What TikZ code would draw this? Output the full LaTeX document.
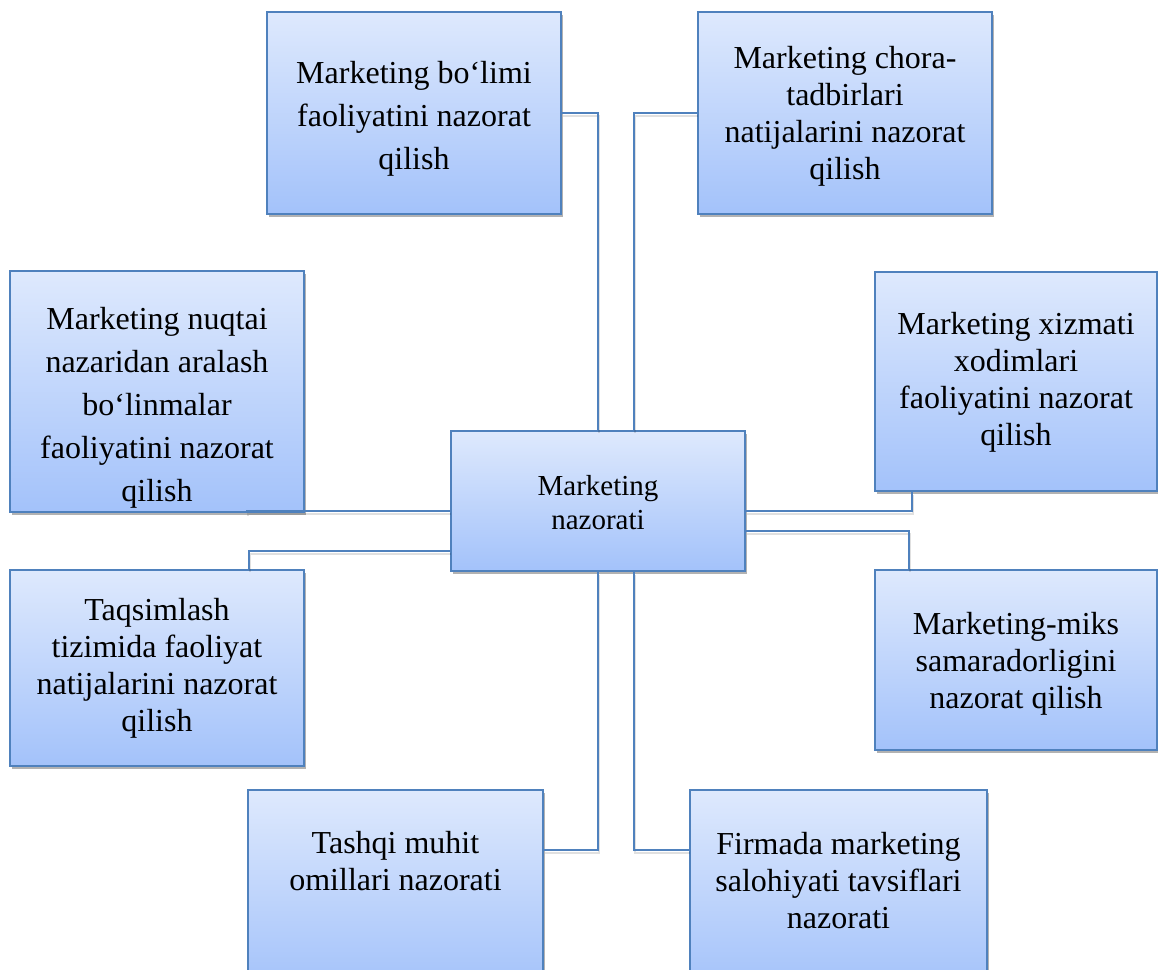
\documentclass[tikz,border=0pt]{standalone}
\usepackage{fontspec}
\setmainfont{Liberation Serif}
\usetikzlibrary{shadows}

\definecolor{boxtop}{RGB}{222,233,253}
\definecolor{boxbot}{RGB}{163,194,250}
\definecolor{boxline}{RGB}{79,129,189}

\tikzset{
  box/.style={draw=boxline, line width=2pt, top color=boxtop, bottom color=boxbot,
    minimum width=294pt, inner sep=0pt,
    drop shadow={shadow xshift=2pt, shadow yshift=-3pt, opacity=0.3, fill=black}},
  txt/.style={align=center, inner sep=0pt, font=\fontsize{32}{37}\selectfont},
  loose/.style={font=\fontsize{32}{43}\selectfont},
  link/.style={draw=boxline, line width=2pt,
    preaction={draw=black, opacity=0.12, line width=2pt, transform canvas={xshift=1pt, yshift=-3pt}}}
}

\begin{document}
\begin{tikzpicture}[x=1pt, y=-1pt]
    \fill[white] (0,0) rectangle (1158,969);
    \useasboundingbox (0,0) rectangle (1158,969);

    % outer boxes, pixel positions from top left
    \node[box, minimum height=202pt] (bolim) at (414,113) {};
    \node[box, minimum height=202pt] (chora) at (845,113) {};
    \node[box, minimum height=241pt] (aralash) at (157,391.5) {};
    \node[box, minimum width=282pt, minimum height=219pt] (xizmat) at (1016,381.5) {};
    \node[box, minimum height=196pt] (taqsim) at (157,668) {};
    \node[box, minimum width=282pt, minimum height=180pt] (miks) at (1016,660) {};
    \node[box, minimum width=295pt, minimum height=200pt] (tashqi) at (395.5,890) {};
    \node[box, minimum width=297pt, minimum height=200pt] (firma) at (838.5,890) {};

    % centre box
    \node[box, minimum width=294pt, minimum height=140pt] (nazorat) at (598,501) {};

    % connectors
    \draw[link] (bolim.east) -| (nazorat.north);
    \draw[link] (chora.west) -| ([xshift=36pt]nazorat.north);
    \draw[link] ([yshift=-10pt]nazorat.west) -| ([xshift=90pt]aralash.south);
    \draw[link] ([yshift=-50pt]nazorat.west) -| ([xshift=92pt]taqsim.north);
    \draw[link] ([yshift=-10pt]nazorat.east) -| ([xshift=-104pt]xizmat.south);
    \draw[link] ([yshift=-30pt]nazorat.east) -| ([xshift=-107pt]miks.north);
    \draw[link] (nazorat.south) |- ([yshift=40pt]tashqi.east);
    \draw[link] ([xshift=36pt]nazorat.south) |- ([yshift=40pt]firma.west);

    % texts
    \node[txt, loose] (t-bolim) at ([yshift=-6pt]bolim.center) {Marketing bo‘limi\\faoliyatini nazorat\\qilish};
    \node[txt] (t-chora) at ([yshift=-3pt]chora.center) {Marketing chora-\\tadbirlari\\natijalarini nazorat\\qilish};
    \node[txt, loose] (t-aralash) at ([yshift=-16pt]aralash.center) {Marketing nuqtai\\nazaridan aralash\\bo‘linmalar\\faoliyatini nazorat\\qilish};
    \node[txt] (t-xizmat) at ([yshift=-1pt]xizmat.center) {Marketing xizmati\\xodimlari\\faoliyatini nazorat\\qilish};
    \node[txt, font=\fontsize{29}{34}\selectfont] (t-nazorat) at ([yshift=-2pt]nazorat.center) {Marketing\\nazorati};
    \node[txt] (t-taqsim) at (taqsim.center) {Taqsimlash\\tizimida faoliyat\\natijalarini nazorat\\qilish};
    \node[txt] (t-miks) at ([yshift=-3.5pt]miks.center) {Marketing-miks\\samaradorligini\\nazorat qilish};
    \node[txt] (t-tashqi) at ([yshift=28.5pt]tashqi.center) {Tashqi muhit\\omillari nazorati};
    \node[txt] (t-firma) at ([yshift=9pt]firma.center) {Firmada marketing\\salohiyati tavsiflari\\nazorati};
\end{tikzpicture}
\end{document}
